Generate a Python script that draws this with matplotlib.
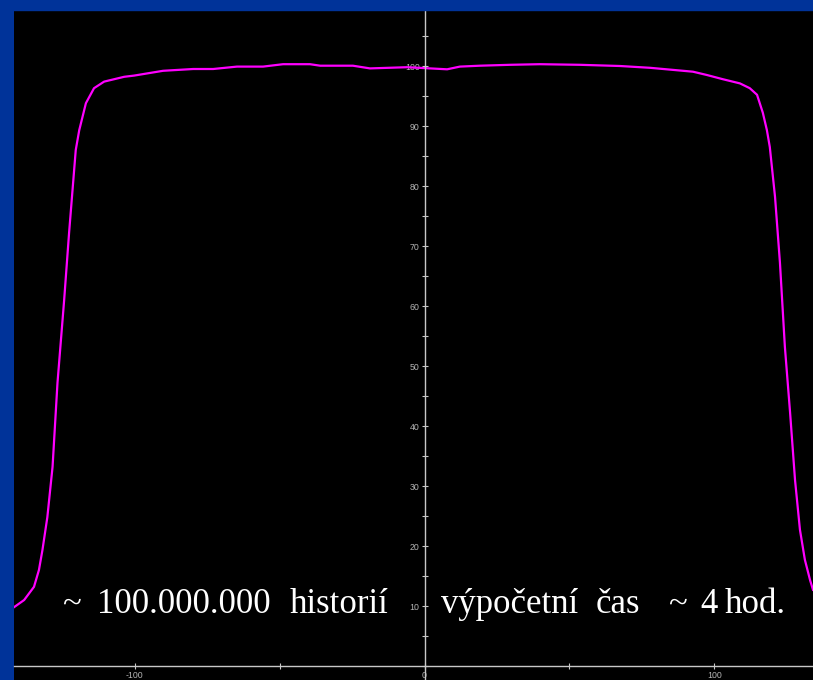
import matplotlib
matplotlib.use("Agg")
import matplotlib.pyplot as plt
from matplotlib.patches import Rectangle
from matplotlib.ticker import MultipleLocator, FixedLocator

# Dose profile across the field (position in mm, relative dose in %)
position = [-141.6, -138.1, -134.7, -133.0, -131.8, -130.1, -128.3, -126.6,
            -124.3, -122.6, -120.3, -119.1, -116.8, -114.0, -110.5, -103.6,
            -100.2, -90.2, -79.8, -72.9, -64.7, -55.7, -48.8, -39.5, -36.0,
            -24.7, -18.8, -6.0, 1.9, 7.8, 12.2, 19.1, 29.5, 39.8, 53.6, 67.4,
            77.8, 92.6, 97.4, 102.9, 108.8, 112.2, 114.7, 116.7, 118.1, 119.1,
            120.9, 122.6, 124.3, 126.1, 127.8, 129.5, 131.2, 133.0, 134.0]
dose = [9.8, 11.0, 13.2, 16.0, 19.3, 24.8, 33.2, 47.2,
        61.0, 72.2, 86.0, 89.3, 93.8, 96.3, 97.4, 98.2,
        98.4, 99.2, 99.5, 99.5, 99.9, 99.9, 100.3, 100.3, 100.05,
        100.05, 99.6, 99.8, 99.6, 99.45, 99.9, 100.05, 100.2, 100.3, 100.2, 100.0,
        99.7, 99.05, 98.5, 97.8, 97.1, 96.3, 95.2, 92.2, 89.3, 86.5,
        78.2, 67.2, 53.2, 42.2, 31.0, 22.7, 17.7, 14.3, 12.7]

y_major = [10, 20, 30, 40, 50, 60, 70, 80, 90, 100, 110]
x_major = [-100, 0, 100]
x_minor = [-50, 50]

# caption words and their left x positions (data units)
left_words = ["~", "100.000.000", "historií"]
left_word_x = [-125.0, -112.9, -46.4]
right_words = ["výpočetní", "čas", "~", "4", "hod."]
right_word_x = [5.7, 59.1, 84.0, 95.0, 103.6]
caption_y = 8.83

W, H = 813, 680
frame_blue = "#003399"
axis_grey = "#c8c8c8"
label_grey = "#b4b4b4"

fig = plt.figure(figsize=(W / 100, H / 100), dpi=100, facecolor=frame_blue)
ax = fig.add_axes([14 / W, 0, (W - 14) / W, 1.0])
ax.set_facecolor("black")

ax.plot(position, dose, color="#ff00ff", lw=1.6, solid_joinstyle="round")

ax.set_xlim(-141.6, 134.0)
ax.set_ylim(-2.33, 111.0)

for side in ("top", "right"):
    ax.spines[side].set_visible(False)
ax.spines["left"].set_position(("data", 0))
ax.spines["bottom"].set_position(("data", 0))
for side in ("left", "bottom"):
    ax.spines[side].set_color(axis_grey)
    ax.spines[side].set_linewidth(1.0)

ax.yaxis.set_major_locator(FixedLocator(y_major))
ax.yaxis.set_minor_locator(MultipleLocator(5))
ax.xaxis.set_major_locator(FixedLocator(x_major))
ax.xaxis.set_minor_locator(FixedLocator(x_minor))
ax.set_yticklabels([str(v) for v in y_major])
ax.set_xticklabels([str(v) for v in x_major])

ax.tick_params(axis="both", which="major", direction="inout", length=5,
               width=0.8, color=axis_grey, labelcolor=label_grey,
               labelsize=6.3, pad=1)
ax.tick_params(axis="both", which="minor", direction="inout", length=4,
               width=0.8, color=axis_grey)
for lbl in ax.get_yticklabels() + ax.get_xticklabels():
    lbl.set_family(["Liberation Sans", "DejaVu Sans"])

serif = ["Liberation Serif", "DejaVu Serif"]
for word, x in zip(left_words + right_words, left_word_x + right_word_x):
    ax.text(x, caption_y, word, color="white", fontsize=25, family=serif,
            ha="left", va="baseline")

# blue frame band along the top edge, drawn over the plot area
fig.patches.append(Rectangle((0, (H - 10) / H), 1, 10 / H,
                             transform=fig.transFigure, color=frame_blue,
                             zorder=10))

fig.savefig("out.png", dpi=100, facecolor=frame_blue)
